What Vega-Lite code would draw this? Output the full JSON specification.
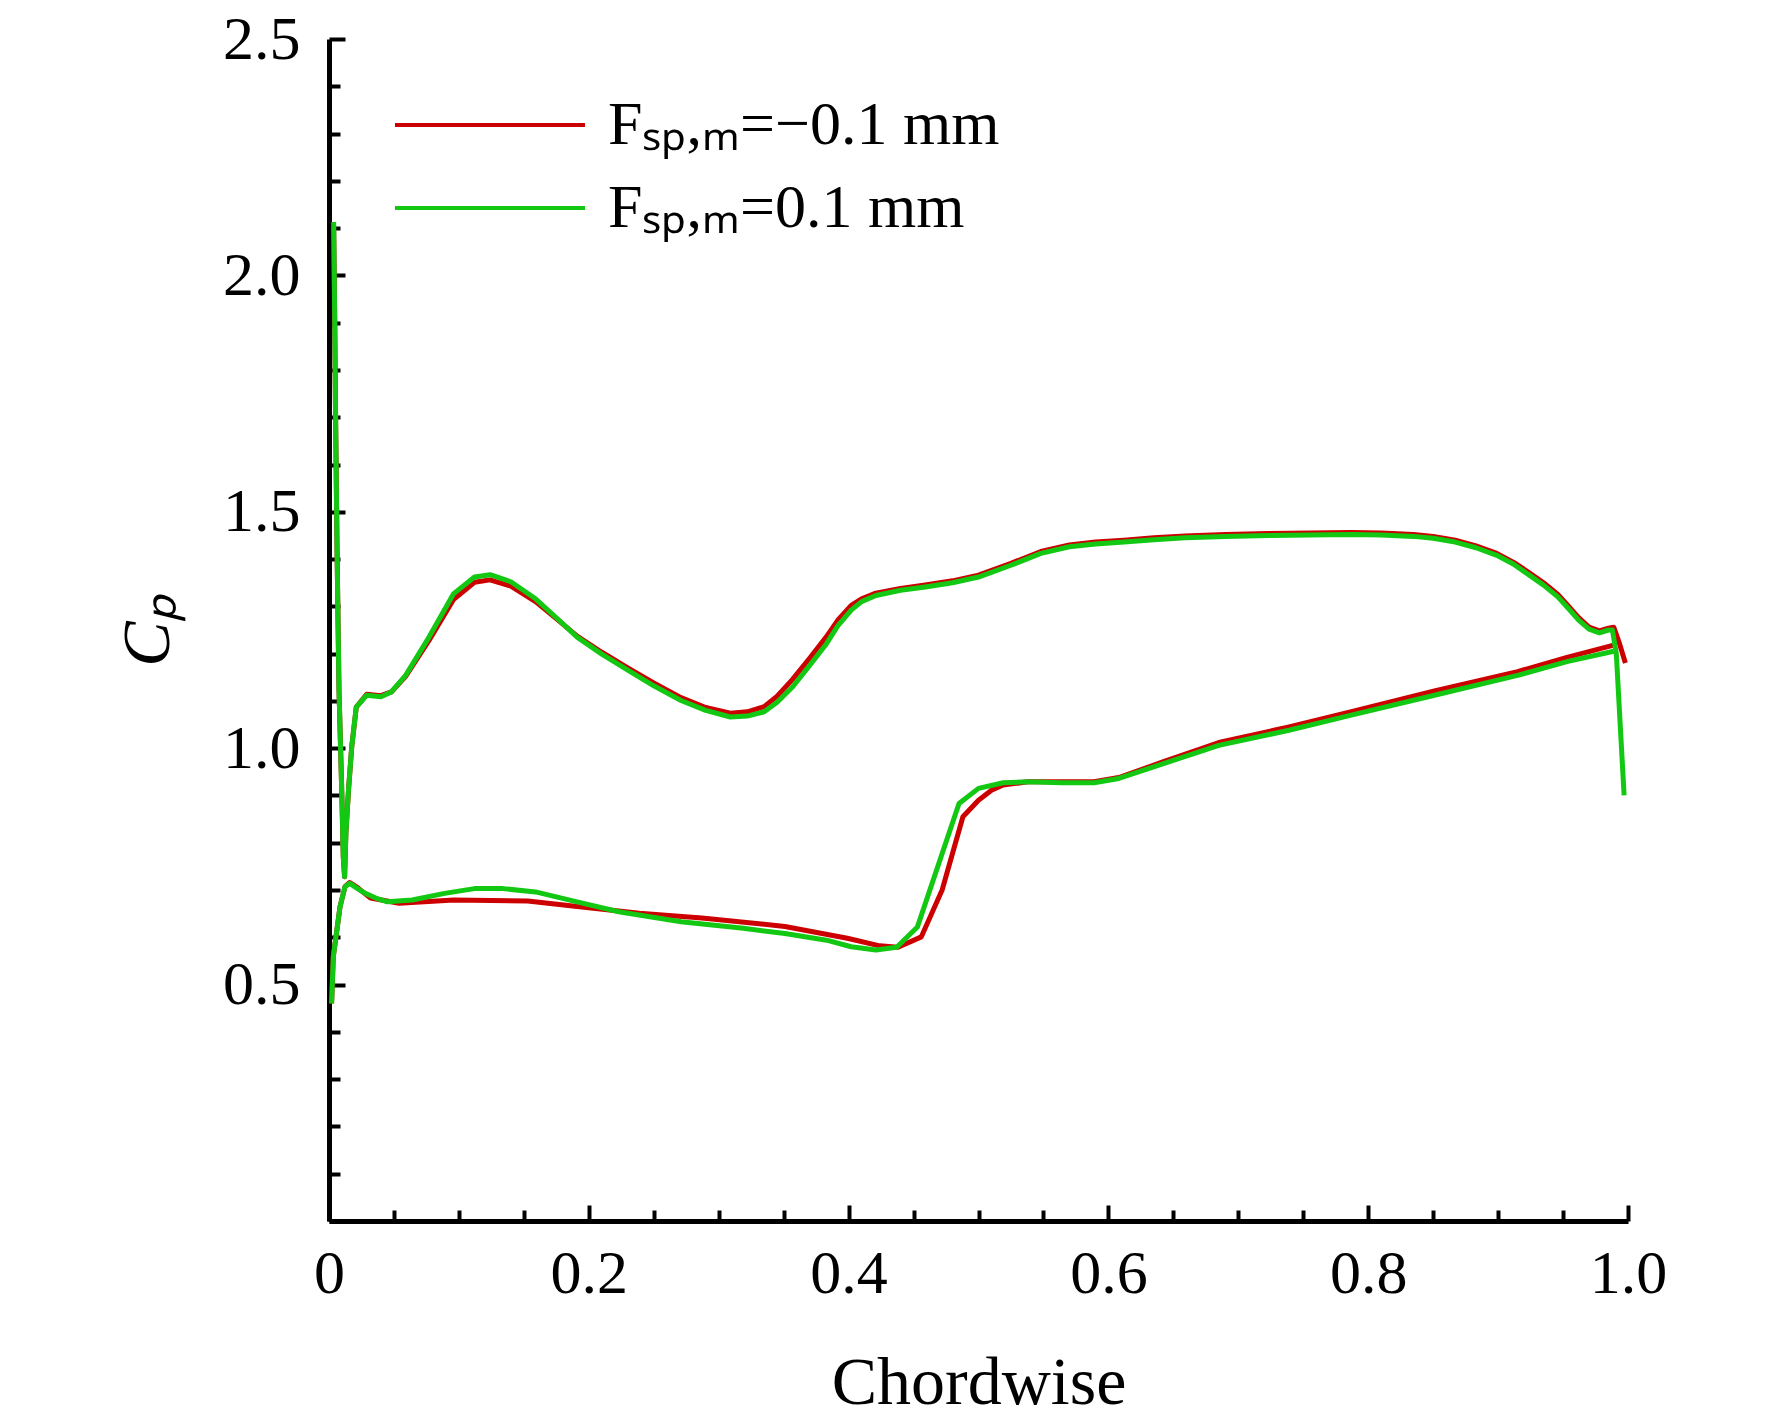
{
  "$schema": "https://vega.github.io/schema/vega-lite/v6.json",
  "width": 1299,
  "height": 1182,
  "autosize": {"type": "none"},
  "padding": {"left": 329, "top": 39, "right": 144, "bottom": 199},
  "background": "white",
  "config": {"view": {"stroke": null}, "font": "Liberation Serif"},
  "data": {
    "values": [
      {"s": "neg", "p": "u", "i": 0, "x": 0.998, "y": 1.18},
      {"s": "neg", "p": "u", "i": 1, "x": 0.993, "y": 1.225},
      {"s": "neg", "p": "u", "i": 2, "x": 0.989, "y": 1.256},
      {"s": "neg", "p": "u", "i": 3, "x": 0.985, "y": 1.254},
      {"s": "neg", "p": "u", "i": 4, "x": 0.978, "y": 1.248},
      {"s": "neg", "p": "u", "i": 5, "x": 0.970, "y": 1.256},
      {"s": "neg", "p": "u", "i": 6, "x": 0.962, "y": 1.276},
      {"s": "neg", "p": "u", "i": 7, "x": 0.954, "y": 1.301},
      {"s": "neg", "p": "u", "i": 8, "x": 0.946, "y": 1.325},
      {"s": "neg", "p": "u", "i": 9, "x": 0.935, "y": 1.350},
      {"s": "neg", "p": "u", "i": 10, "x": 0.924, "y": 1.371},
      {"s": "neg", "p": "u", "i": 11, "x": 0.912, "y": 1.393},
      {"s": "neg", "p": "u", "i": 12, "x": 0.899, "y": 1.412},
      {"s": "neg", "p": "u", "i": 13, "x": 0.883, "y": 1.428},
      {"s": "neg", "p": "u", "i": 14, "x": 0.867, "y": 1.440},
      {"s": "neg", "p": "u", "i": 15, "x": 0.850, "y": 1.448},
      {"s": "neg", "p": "u", "i": 16, "x": 0.835, "y": 1.452},
      {"s": "neg", "p": "u", "i": 17, "x": 0.810, "y": 1.455},
      {"s": "neg", "p": "u", "i": 18, "x": 0.787, "y": 1.456},
      {"s": "neg", "p": "u", "i": 19, "x": 0.755, "y": 1.455},
      {"s": "neg", "p": "u", "i": 20, "x": 0.723, "y": 1.454},
      {"s": "neg", "p": "u", "i": 21, "x": 0.690, "y": 1.452},
      {"s": "neg", "p": "u", "i": 22, "x": 0.659, "y": 1.449},
      {"s": "neg", "p": "u", "i": 23, "x": 0.635, "y": 1.445},
      {"s": "neg", "p": "u", "i": 24, "x": 0.612, "y": 1.440},
      {"s": "neg", "p": "u", "i": 25, "x": 0.590, "y": 1.436},
      {"s": "neg", "p": "u", "i": 26, "x": 0.570, "y": 1.430},
      {"s": "neg", "p": "u", "i": 27, "x": 0.548, "y": 1.416},
      {"s": "neg", "p": "u", "i": 28, "x": 0.525, "y": 1.391},
      {"s": "neg", "p": "u", "i": 29, "x": 0.500, "y": 1.366},
      {"s": "neg", "p": "u", "i": 30, "x": 0.480, "y": 1.354},
      {"s": "neg", "p": "u", "i": 31, "x": 0.459, "y": 1.345},
      {"s": "neg", "p": "u", "i": 32, "x": 0.440, "y": 1.338},
      {"s": "neg", "p": "u", "i": 33, "x": 0.421, "y": 1.328},
      {"s": "neg", "p": "u", "i": 34, "x": 0.410, "y": 1.316},
      {"s": "neg", "p": "u", "i": 35, "x": 0.402, "y": 1.302},
      {"s": "neg", "p": "u", "i": 36, "x": 0.392, "y": 1.272},
      {"s": "neg", "p": "u", "i": 37, "x": 0.383, "y": 1.236},
      {"s": "neg", "p": "u", "i": 38, "x": 0.370, "y": 1.190},
      {"s": "neg", "p": "u", "i": 39, "x": 0.357, "y": 1.146},
      {"s": "neg", "p": "u", "i": 40, "x": 0.345, "y": 1.110},
      {"s": "neg", "p": "u", "i": 41, "x": 0.335, "y": 1.088},
      {"s": "neg", "p": "u", "i": 42, "x": 0.322, "y": 1.077},
      {"s": "neg", "p": "u", "i": 43, "x": 0.309, "y": 1.074},
      {"s": "neg", "p": "u", "i": 44, "x": 0.290, "y": 1.086},
      {"s": "neg", "p": "u", "i": 45, "x": 0.271, "y": 1.107},
      {"s": "neg", "p": "u", "i": 46, "x": 0.250, "y": 1.138},
      {"s": "neg", "p": "u", "i": 47, "x": 0.230, "y": 1.170},
      {"s": "neg", "p": "u", "i": 48, "x": 0.210, "y": 1.203},
      {"s": "neg", "p": "u", "i": 49, "x": 0.191, "y": 1.237},
      {"s": "neg", "p": "u", "i": 50, "x": 0.175, "y": 1.274},
      {"s": "neg", "p": "u", "i": 51, "x": 0.159, "y": 1.310},
      {"s": "neg", "p": "u", "i": 52, "x": 0.140, "y": 1.343},
      {"s": "neg", "p": "u", "i": 53, "x": 0.124, "y": 1.356},
      {"s": "neg", "p": "u", "i": 54, "x": 0.112, "y": 1.351},
      {"s": "neg", "p": "u", "i": 55, "x": 0.096, "y": 1.315},
      {"s": "neg", "p": "u", "i": 56, "x": 0.077, "y": 1.228},
      {"s": "neg", "p": "u", "i": 57, "x": 0.059, "y": 1.152},
      {"s": "neg", "p": "u", "i": 58, "x": 0.048, "y": 1.119},
      {"s": "neg", "p": "u", "i": 59, "x": 0.040, "y": 1.111},
      {"s": "neg", "p": "u", "i": 60, "x": 0.029, "y": 1.114},
      {"s": "neg", "p": "u", "i": 61, "x": 0.021, "y": 1.087},
      {"s": "neg", "p": "u", "i": 62, "x": 0.0175, "y": 1.003},
      {"s": "neg", "p": "u", "i": 63, "x": 0.015, "y": 0.911},
      {"s": "neg", "p": "u", "i": 64, "x": 0.013, "y": 0.820},
      {"s": "neg", "p": "u", "i": 65, "x": 0.012, "y": 0.728},
      {"s": "neg", "p": "u", "i": 66, "x": 0.011, "y": 0.770},
      {"s": "neg", "p": "u", "i": 67, "x": 0.0098, "y": 0.911},
      {"s": "neg", "p": "u", "i": 68, "x": 0.0077, "y": 1.123},
      {"s": "neg", "p": "u", "i": 69, "x": 0.0062, "y": 1.418},
      {"s": "neg", "p": "u", "i": 70, "x": 0.005, "y": 1.72},
      {"s": "neg", "p": "u", "i": 71, "x": 0.0044, "y": 1.905},
      {"s": "neg", "p": "u", "i": 72, "x": 0.0036, "y": 2.10},
      {"s": "neg", "p": "l", "i": 100, "x": 0.002, "y": 0.46},
      {"s": "neg", "p": "l", "i": 101, "x": 0.0033, "y": 0.559},
      {"s": "neg", "p": "l", "i": 102, "x": 0.0085, "y": 0.665},
      {"s": "neg", "p": "l", "i": 103, "x": 0.0123, "y": 0.707},
      {"s": "neg", "p": "l", "i": 104, "x": 0.016, "y": 0.716},
      {"s": "neg", "p": "l", "i": 105, "x": 0.022, "y": 0.705},
      {"s": "neg", "p": "l", "i": 106, "x": 0.032, "y": 0.683},
      {"s": "neg", "p": "l", "i": 107, "x": 0.054, "y": 0.672},
      {"s": "neg", "p": "l", "i": 108, "x": 0.096, "y": 0.679},
      {"s": "neg", "p": "l", "i": 109, "x": 0.153, "y": 0.677},
      {"s": "neg", "p": "l", "i": 110, "x": 0.191, "y": 0.665},
      {"s": "neg", "p": "l", "i": 111, "x": 0.239, "y": 0.651},
      {"s": "neg", "p": "l", "i": 112, "x": 0.287, "y": 0.641},
      {"s": "neg", "p": "l", "i": 113, "x": 0.351, "y": 0.623},
      {"s": "neg", "p": "l", "i": 114, "x": 0.399, "y": 0.598},
      {"s": "neg", "p": "l", "i": 115, "x": 0.424, "y": 0.582},
      {"s": "neg", "p": "l", "i": 116, "x": 0.438, "y": 0.579},
      {"s": "neg", "p": "l", "i": 117, "x": 0.456, "y": 0.601},
      {"s": "neg", "p": "l", "i": 118, "x": 0.472, "y": 0.700},
      {"s": "neg", "p": "l", "i": 119, "x": 0.488, "y": 0.855},
      {"s": "neg", "p": "l", "i": 120, "x": 0.500, "y": 0.890},
      {"s": "neg", "p": "l", "i": 121, "x": 0.510, "y": 0.911},
      {"s": "neg", "p": "l", "i": 122, "x": 0.519, "y": 0.922},
      {"s": "neg", "p": "l", "i": 123, "x": 0.538, "y": 0.929},
      {"s": "neg", "p": "l", "i": 124, "x": 0.564, "y": 0.929},
      {"s": "neg", "p": "l", "i": 125, "x": 0.589, "y": 0.929},
      {"s": "neg", "p": "l", "i": 126, "x": 0.608, "y": 0.938},
      {"s": "neg", "p": "l", "i": 127, "x": 0.643, "y": 0.972},
      {"s": "neg", "p": "l", "i": 128, "x": 0.685, "y": 1.012},
      {"s": "neg", "p": "l", "i": 129, "x": 0.739, "y": 1.045},
      {"s": "neg", "p": "l", "i": 130, "x": 0.787, "y": 1.077},
      {"s": "neg", "p": "l", "i": 131, "x": 0.851, "y": 1.121},
      {"s": "neg", "p": "l", "i": 132, "x": 0.915, "y": 1.162},
      {"s": "neg", "p": "l", "i": 133, "x": 0.953, "y": 1.192},
      {"s": "neg", "p": "l", "i": 134, "x": 0.989, "y": 1.218},
      {"s": "pos", "p": "u", "i": 0, "x": 0.997, "y": 0.90},
      {"s": "pos", "p": "u", "i": 1, "x": 0.994, "y": 1.05},
      {"s": "pos", "p": "u", "i": 2, "x": 0.991, "y": 1.20},
      {"s": "pos", "p": "u", "i": 3, "x": 0.988, "y": 1.25},
      {"s": "pos", "p": "u", "i": 4, "x": 0.985, "y": 1.250},
      {"s": "pos", "p": "u", "i": 5, "x": 0.978, "y": 1.244},
      {"s": "pos", "p": "u", "i": 6, "x": 0.970, "y": 1.252},
      {"s": "pos", "p": "u", "i": 7, "x": 0.962, "y": 1.271},
      {"s": "pos", "p": "u", "i": 8, "x": 0.954, "y": 1.296},
      {"s": "pos", "p": "u", "i": 9, "x": 0.946, "y": 1.320},
      {"s": "pos", "p": "u", "i": 10, "x": 0.935, "y": 1.345},
      {"s": "pos", "p": "u", "i": 11, "x": 0.924, "y": 1.366},
      {"s": "pos", "p": "u", "i": 12, "x": 0.912, "y": 1.389},
      {"s": "pos", "p": "u", "i": 13, "x": 0.899, "y": 1.408},
      {"s": "pos", "p": "u", "i": 14, "x": 0.883, "y": 1.424},
      {"s": "pos", "p": "u", "i": 15, "x": 0.867, "y": 1.436},
      {"s": "pos", "p": "u", "i": 16, "x": 0.850, "y": 1.444},
      {"s": "pos", "p": "u", "i": 17, "x": 0.835, "y": 1.448},
      {"s": "pos", "p": "u", "i": 18, "x": 0.810, "y": 1.451},
      {"s": "pos", "p": "u", "i": 19, "x": 0.787, "y": 1.452},
      {"s": "pos", "p": "u", "i": 20, "x": 0.755, "y": 1.451},
      {"s": "pos", "p": "u", "i": 21, "x": 0.723, "y": 1.450},
      {"s": "pos", "p": "u", "i": 22, "x": 0.690, "y": 1.448},
      {"s": "pos", "p": "u", "i": 23, "x": 0.659, "y": 1.445},
      {"s": "pos", "p": "u", "i": 24, "x": 0.635, "y": 1.441},
      {"s": "pos", "p": "u", "i": 25, "x": 0.612, "y": 1.436},
      {"s": "pos", "p": "u", "i": 26, "x": 0.590, "y": 1.432},
      {"s": "pos", "p": "u", "i": 27, "x": 0.570, "y": 1.426},
      {"s": "pos", "p": "u", "i": 28, "x": 0.548, "y": 1.412},
      {"s": "pos", "p": "u", "i": 29, "x": 0.525, "y": 1.387},
      {"s": "pos", "p": "u", "i": 30, "x": 0.500, "y": 1.362},
      {"s": "pos", "p": "u", "i": 31, "x": 0.480, "y": 1.350},
      {"s": "pos", "p": "u", "i": 32, "x": 0.459, "y": 1.341},
      {"s": "pos", "p": "u", "i": 33, "x": 0.440, "y": 1.334},
      {"s": "pos", "p": "u", "i": 34, "x": 0.421, "y": 1.323},
      {"s": "pos", "p": "u", "i": 35, "x": 0.410, "y": 1.310},
      {"s": "pos", "p": "u", "i": 36, "x": 0.402, "y": 1.292},
      {"s": "pos", "p": "u", "i": 37, "x": 0.392, "y": 1.260},
      {"s": "pos", "p": "u", "i": 38, "x": 0.383, "y": 1.221},
      {"s": "pos", "p": "u", "i": 39, "x": 0.370, "y": 1.175},
      {"s": "pos", "p": "u", "i": 40, "x": 0.357, "y": 1.130},
      {"s": "pos", "p": "u", "i": 41, "x": 0.345, "y": 1.097},
      {"s": "pos", "p": "u", "i": 42, "x": 0.335, "y": 1.077},
      {"s": "pos", "p": "u", "i": 43, "x": 0.322, "y": 1.068},
      {"s": "pos", "p": "u", "i": 44, "x": 0.309, "y": 1.066},
      {"s": "pos", "p": "u", "i": 45, "x": 0.290, "y": 1.080},
      {"s": "pos", "p": "u", "i": 46, "x": 0.271, "y": 1.101},
      {"s": "pos", "p": "u", "i": 47, "x": 0.250, "y": 1.132},
      {"s": "pos", "p": "u", "i": 48, "x": 0.230, "y": 1.165},
      {"s": "pos", "p": "u", "i": 49, "x": 0.210, "y": 1.199},
      {"s": "pos", "p": "u", "i": 50, "x": 0.191, "y": 1.235},
      {"s": "pos", "p": "u", "i": 51, "x": 0.175, "y": 1.276},
      {"s": "pos", "p": "u", "i": 52, "x": 0.159, "y": 1.316},
      {"s": "pos", "p": "u", "i": 53, "x": 0.140, "y": 1.352},
      {"s": "pos", "p": "u", "i": 54, "x": 0.124, "y": 1.367},
      {"s": "pos", "p": "u", "i": 55, "x": 0.112, "y": 1.362},
      {"s": "pos", "p": "u", "i": 56, "x": 0.096, "y": 1.327},
      {"s": "pos", "p": "u", "i": 57, "x": 0.077, "y": 1.235},
      {"s": "pos", "p": "u", "i": 58, "x": 0.059, "y": 1.154},
      {"s": "pos", "p": "u", "i": 59, "x": 0.048, "y": 1.119},
      {"s": "pos", "p": "u", "i": 60, "x": 0.040, "y": 1.109},
      {"s": "pos", "p": "u", "i": 61, "x": 0.029, "y": 1.112},
      {"s": "pos", "p": "u", "i": 62, "x": 0.021, "y": 1.087},
      {"s": "pos", "p": "u", "i": 63, "x": 0.0175, "y": 1.003},
      {"s": "pos", "p": "u", "i": 64, "x": 0.015, "y": 0.911},
      {"s": "pos", "p": "u", "i": 65, "x": 0.013, "y": 0.820},
      {"s": "pos", "p": "u", "i": 66, "x": 0.012, "y": 0.728},
      {"s": "pos", "p": "u", "i": 67, "x": 0.011, "y": 0.770},
      {"s": "pos", "p": "u", "i": 68, "x": 0.0098, "y": 0.911},
      {"s": "pos", "p": "u", "i": 69, "x": 0.0077, "y": 1.123},
      {"s": "pos", "p": "u", "i": 70, "x": 0.0062, "y": 1.418},
      {"s": "pos", "p": "u", "i": 71, "x": 0.005, "y": 1.72},
      {"s": "pos", "p": "u", "i": 72, "x": 0.0044, "y": 1.905},
      {"s": "pos", "p": "u", "i": 73, "x": 0.0036, "y": 2.113},
      {"s": "pos", "p": "l", "i": 100, "x": 0.002, "y": 0.46},
      {"s": "pos", "p": "l", "i": 101, "x": 0.0033, "y": 0.559},
      {"s": "pos", "p": "l", "i": 102, "x": 0.0085, "y": 0.665},
      {"s": "pos", "p": "l", "i": 103, "x": 0.0123, "y": 0.707},
      {"s": "pos", "p": "l", "i": 104, "x": 0.016, "y": 0.714},
      {"s": "pos", "p": "l", "i": 105, "x": 0.022, "y": 0.703},
      {"s": "pos", "p": "l", "i": 106, "x": 0.028, "y": 0.693},
      {"s": "pos", "p": "l", "i": 107, "x": 0.036, "y": 0.683},
      {"s": "pos", "p": "l", "i": 108, "x": 0.045, "y": 0.675},
      {"s": "pos", "p": "l", "i": 109, "x": 0.064, "y": 0.679},
      {"s": "pos", "p": "l", "i": 110, "x": 0.089, "y": 0.693},
      {"s": "pos", "p": "l", "i": 111, "x": 0.112, "y": 0.703},
      {"s": "pos", "p": "l", "i": 112, "x": 0.134, "y": 0.703},
      {"s": "pos", "p": "l", "i": 113, "x": 0.159, "y": 0.696},
      {"s": "pos", "p": "l", "i": 114, "x": 0.191, "y": 0.675},
      {"s": "pos", "p": "l", "i": 115, "x": 0.223, "y": 0.654},
      {"s": "pos", "p": "l", "i": 116, "x": 0.271, "y": 0.633},
      {"s": "pos", "p": "l", "i": 117, "x": 0.319, "y": 0.619},
      {"s": "pos", "p": "l", "i": 118, "x": 0.351, "y": 0.608},
      {"s": "pos", "p": "l", "i": 119, "x": 0.383, "y": 0.594},
      {"s": "pos", "p": "l", "i": 120, "x": 0.402, "y": 0.580},
      {"s": "pos", "p": "l", "i": 121, "x": 0.421, "y": 0.573},
      {"s": "pos", "p": "l", "i": 122, "x": 0.437, "y": 0.579},
      {"s": "pos", "p": "l", "i": 123, "x": 0.453, "y": 0.622},
      {"s": "pos", "p": "l", "i": 124, "x": 0.485, "y": 0.883},
      {"s": "pos", "p": "l", "i": 125, "x": 0.500, "y": 0.915},
      {"s": "pos", "p": "l", "i": 126, "x": 0.519, "y": 0.927},
      {"s": "pos", "p": "l", "i": 127, "x": 0.538, "y": 0.929},
      {"s": "pos", "p": "l", "i": 128, "x": 0.564, "y": 0.927},
      {"s": "pos", "p": "l", "i": 129, "x": 0.589, "y": 0.927},
      {"s": "pos", "p": "l", "i": 130, "x": 0.608, "y": 0.936},
      {"s": "pos", "p": "l", "i": 131, "x": 0.643, "y": 0.968},
      {"s": "pos", "p": "l", "i": 132, "x": 0.685, "y": 1.006},
      {"s": "pos", "p": "l", "i": 133, "x": 0.739, "y": 1.038},
      {"s": "pos", "p": "l", "i": 134, "x": 0.787, "y": 1.070},
      {"s": "pos", "p": "l", "i": 135, "x": 0.851, "y": 1.112},
      {"s": "pos", "p": "l", "i": 136, "x": 0.915, "y": 1.154},
      {"s": "pos", "p": "l", "i": 137, "x": 0.953, "y": 1.183},
      {"s": "pos", "p": "l", "i": 138, "x": 0.989, "y": 1.205}
    ]
  },
  "encoding": {
    "x": {
      "field": "x",
      "type": "quantitative",
      "scale": {"domain": [0, 1], "nice": false, "zero": false},
      "axis": {
        "values": [0, 0.05, 0.1, 0.15, 0.2, 0.25, 0.3, 0.35, 0.4, 0.45, 0.5, 0.55, 0.6, 0.65, 0.7, 0.75, 0.8, 0.85, 0.9, 0.95, 1.0],
        "labelExpr": "abs(datum.value * 5 - round(datum.value * 5)) < 0.001 ? (datum.value == 0 ? '0' : format(datum.value, '.1f')) : ''",
        "tickSize": {"condition": {"test": "abs(datum.value * 5 - round(datum.value * 5)) < 0.001", "value": -16}, "value": -11},
        "tickWidth": 4,
        "tickColor": "black",
        "domainWidth": 5,
        "domainColor": "black",
        "grid": false,
        "labelFont": "Liberation Serif",
        "labelFontSize": 62,
        "labelColor": "black",
        "labelPadding": 38,
        "labelFlush": false,
        "labelOverlap": false,
        "title": "Chordwise",
        "titleFont": "Liberation Serif",
        "titleFontSize": 68,
        "titleFontWeight": "normal",
        "titleColor": "black",
        "titlePadding": 40
      }
    },
    "y": {
      "field": "y",
      "type": "quantitative",
      "scale": {"domain": [0, 2.5], "nice": false},
      "axis": {
        "values": [0, 0.1, 0.2, 0.3, 0.4, 0.5, 0.6, 0.7, 0.8, 0.9, 1.0, 1.1, 1.2, 1.3, 1.4, 1.5, 1.6, 1.7, 1.8, 1.9, 2.0, 2.1, 2.2, 2.3, 2.4, 2.5],
        "labelExpr": "datum.value > 0.01 && abs(datum.value * 2 - round(datum.value * 2)) < 0.001 ? format(datum.value, '.1f') : ''",
        "tickSize": {"condition": {"test": "abs(datum.value * 2 - round(datum.value * 2)) < 0.001", "value": -16}, "value": -11},
        "tickWidth": 4,
        "tickColor": "black",
        "domainWidth": 5,
        "domainColor": "black",
        "grid": false,
        "labelFont": "Liberation Serif",
        "labelFontSize": 62,
        "labelColor": "black",
        "labelPadding": 45,
        "labelFlush": false,
        "labelOverlap": false,
        "title": "Cₚ",
        "titleFont": "Liberation Serif",
        "titleFontSize": 68,
        "titleFontStyle": "italic",
        "titleFontWeight": "normal",
        "titleColor": "black",
        "titlePadding": 40
      }
    },
    "color": {
      "field": "s",
      "type": "nominal",
      "scale": {"domain": ["neg", "pos"], "range": ["#cc0000", "#12c812"]},
      "legend": {
        "orient": "none",
        "legendX": 130,
        "legendY": 55,
        "padding": 0,
        "title": null,
        "symbolType": "M-9.5,0H9.5",
        "symbolSize": 400,
        "symbolStrokeWidth": 4,
        "labelFont": "Liberation Serif",
        "labelFontSize": 62,
        "labelColor": "black",
        "labelOffset": 87,
        "labelLimit": 0,
        "rowPadding": 21,
        "labelExpr": "datum.value == 'neg' ? 'Fₛₚ,ₘ=−0.1 mm' : 'Fₛₚ,ₘ=0.1 mm'"
      }
    },
    "detail": {"field": "p"},
    "order": {"field": "i", "type": "quantitative"}
  },
  "layer": [
    {
      "transform": [{"filter": "datum.s == 'neg'"}],
      "mark": {"type": "line", "strokeWidth": 5, "strokeJoin": "round"}
    },
    {
      "transform": [{"filter": "datum.s == 'pos'"}],
      "mark": {"type": "line", "strokeWidth": 5, "strokeJoin": "round"}
    }
  ]
}
